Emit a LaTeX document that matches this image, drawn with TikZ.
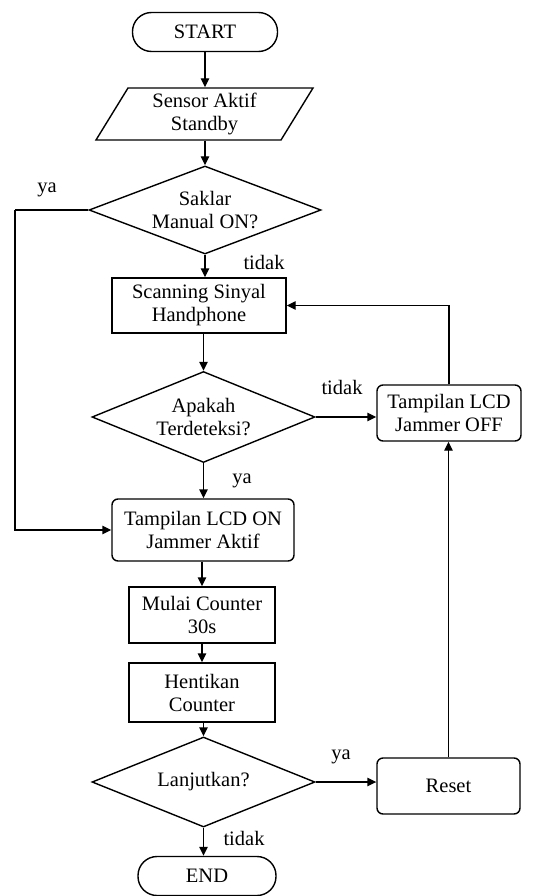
\documentclass[tikz,border=0pt]{standalone}
\usepackage{fontspec}
\setmainfont{Liberation Serif}
\usetikzlibrary{shapes.geometric,arrows.meta}
\begin{document}
\begin{tikzpicture}[x=1pt,y=-1pt,
 base/.style={draw, line width=1.4pt, align=center, font=\fontsize{20.5}{23}\selectfont, inner sep=0pt},
 term/.style={base, rectangle, rounded corners=19pt, minimum height=39pt},
 proc/.style={base, rectangle},
 rproc/.style={base, rectangle, rounded corners=6pt},
 decision/.style={base, diamond, aspect=2.5},
 lbl/.style={font=\fontsize{20.5}{23}\selectfont, inner sep=0pt},
 flow/.style={line width=1.4pt, -{Triangle[length=9pt,width=8.5pt]}},
 link/.style={line width=1.4pt}]
\useasboundingbox (0,0) rectangle (541,896);
\fill[white] (0,0) rectangle (541,896);

\node[term, minimum width=145pt] (start) at (205,32) {START};
\node[base, draw=none, minimum width=185pt, minimum height=52pt] (sensor) at (204.5,114) {Sensor Aktif\\Standby};
\draw[link] (96,140) -- (128,88) -- (313,88) -- (281,140) -- cycle;
\node[decision, minimum width=232pt, minimum height=88pt] (d1) at (205,210) {Saklar\\Manual ON?};
\node[proc, minimum width=174pt, minimum height=55pt] (scan) at (199,305.5) {Scanning Sinyal\\Handphone};
\node[decision, minimum width=223pt, minimum height=91pt] (d2) at (203.5,417) {Apakah\\Terdeteksi?};
\node[rproc, minimum width=144pt, minimum height=56pt] (lcdoff) at (449,413) {Tampilan LCD\\Jammer OFF};
\node[rproc, minimum width=182pt, minimum height=62pt] (lcdon) at (203,530) {Tampilan LCD ON\\Jammer Aktif};
\node[proc, minimum width=146pt, minimum height=56pt] (mulai) at (202,615) {Mulai Counter\\30s};
\node[proc, minimum width=146pt, minimum height=59pt] (henti) at (202,692.5) {Hentikan\\Counter};
\node[decision, minimum width=223pt, minimum height=90pt] (d3) at (203.5,782) {Lanjutkan?};
\node[rproc, minimum width=143pt, minimum height=56pt] (reset) at (448.5,786) {Reset};
\node[term, minimum width=138pt] (end) at (207,876) {END};

\coordinate (lcorner) at (15,0);

\draw[flow] (start.south) -- (start.south |- sensor.north);
\draw[flow] (sensor.south -| start.south) -- (start.south |- d1.north);
\draw[flow] (d1.south) -- (d1.south |- scan.north);
\draw[link] (d1.west) -- (d1.west -| lcorner);
\draw[flow] (d1.west -| lcorner) |- (lcdon.west);
\draw[flow] (scan.south -| d2.north) -- (d2.north);
\draw[flow] (d2.east) -- (d2.east -| lcdoff.west);
\draw[flow] (lcdoff.north) |- (scan.east);
\draw[flow] (d2.south) -- (d2.south |- lcdon.north);
\draw[flow] (lcdon.south -| mulai.north) -- (mulai.north);
\draw[flow] (mulai.south) -- (henti.north);
\draw[flow] (henti.south -| d3.north) -- (d3.north);
\draw[flow] (d3.east) -- (d3.east -| reset.west);
\draw[flow] (reset.north) -- (reset.north |- lcdoff.south);
\draw[flow] (d3.south) -- (d3.south |- end.north);

\node[lbl] (l1) at (47,190) {ya};
\node[lbl] (l2) at (264,262) {tidak};
\node[lbl] (l3) at (342,387) {tidak};
\node[lbl] (l4) at (242,481) {ya};
\node[lbl] (l5) at (341,757) {ya};
\node[lbl] (l6) at (244,838) {tidak};
\end{tikzpicture}
\end{document}
